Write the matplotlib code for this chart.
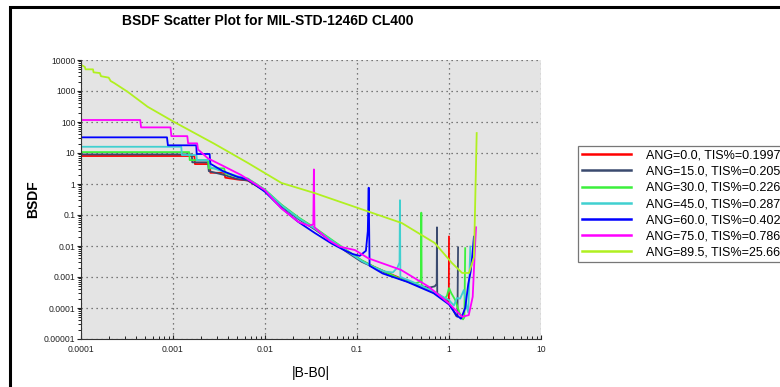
import matplotlib
matplotlib.use("Agg")
import matplotlib.pyplot as plt
from matplotlib.patches import Rectangle
from matplotlib.ticker import FixedLocator, FixedFormatter, LogLocator, NullFormatter

plt.rcParams['font.family'] = ['Liberation Sans', 'DejaVu Sans']

# ---- data (|B-B0|, BSDF) ----
ang0_x = [1e-4, 1.71e-3, 1.73e-3, 2.5e-3, 2.55e-3, 3.6e-3, 3.7e-3, 5e-3, 6.5e-3, 0.01, 0.015, 0.023,
          0.035, 0.053, 0.08, 0.112, 0.15, 0.2, 0.3, 0.45, 0.6, 0.8, 0.95, 0.995, 1.0]
ang0_y = [8.0, 8.0, 4.4, 4.4, 2.3, 2.3, 1.6, 1.4, 1.3, 0.6, 0.21, 0.08,
          0.036, 0.015, 6.5e-3, 3.4e-3, 2.2e-3, 1.5e-3, 9e-4, 5.5e-4, 3.8e-4, 2.4e-4, 1.9e-4, 1.6e-4, 0.02]

ang15_x = [1e-4, 1.6e-3, 1.62e-3, 2.4e-3, 2.45e-3, 3.5e-3, 5e-3, 6.5e-3, 0.01, 0.015, 0.023, 0.035,
           0.053, 0.08, 0.112, 0.15, 0.2, 0.3, 0.45, 0.6, 0.7, 0.735, 0.74, 0.745, 0.85, 1.0, 1.1,
           1.2, 1.235, 1.255]
ang15_y = [9.0, 9.0, 5.0, 5.0, 2.6, 2.0, 1.45, 1.3, 0.6, 0.2, 0.075, 0.034,
           0.014, 6e-3, 3.1e-3, 2.1e-3, 1.4e-3, 8.5e-4, 5.5e-4, 4.5e-4, 5e-4, 6e-4, 0.04, 3e-4, 2.2e-4,
           1.4e-4, 9e-5, 5.5e-5, 5.2e-5, 9e-3]

ang30_x = [1e-4, 1.5e-3, 1.52e-3, 2.4e-3, 2.45e-3, 3.6e-3, 3.7e-3, 5e-3, 6.5e-3, 0.01, 0.015, 0.023,
           0.035, 0.053, 0.08, 0.112, 0.15, 0.2, 0.3, 0.42, 0.48, 0.495, 0.5, 0.505, 0.6, 0.75, 0.88,
           0.95, 1.0, 1.06, 1.17, 1.3, 1.42, 1.47, 1.5]
ang30_y = [10.7, 10.7, 5.9, 5.9, 3.2, 3.2, 2.2, 1.7, 1.5, 0.66, 0.22, 0.085,
           0.038, 0.016, 6.8e-3, 3.5e-3, 2.2e-3, 1.5e-3, 8.5e-4, 6e-4, 7e-4, 9e-4, 0.119, 5e-4, 4e-4,
           2.7e-4, 1.8e-4, 2.5e-4, 4.4e-4, 3e-4, 1.8e-4, 7e-5, 4.3e-5, 5e-5, 8.5e-3]

ang45_x = [1e-4, 1.23e-3, 1.25e-3, 1.8e-3, 1.82e-3, 2.5e-3, 2.55e-3, 3.5e-3, 5e-3, 6.5e-3, 0.01,
           0.015, 0.023, 0.035, 0.053, 0.08, 0.112, 0.15, 0.2, 0.245, 0.275, 0.29, 0.293, 0.296, 0.4,
           0.6, 0.8, 1.0, 1.13, 1.22, 1.32, 1.45, 1.55, 1.62, 1.66, 1.705]
ang45_y = [15.9, 15.9, 8.6, 8.6, 5.9, 5.9, 3.5, 2.5, 1.8, 1.45, 0.64,
           0.21, 0.08, 0.036, 0.015, 6.5e-3, 3.3e-3, 2.1e-3, 1.5e-3, 1.4e-3, 2e-3, 3e-3, 0.3, 1e-3, 7e-4,
           4e-4, 2.6e-4, 1.8e-4, 1.2e-4, 2.1e-4, 2e-4, 3.8e-4, 1.2e-4, 7e-5, 8e-4, 9.6e-3]

ang60_x = [1e-4, 8.6e-4, 8.8e-4, 1.79e-3, 1.81e-3, 2.5e-3, 2.55e-3, 3.5e-3, 5e-3, 6.5e-3, 0.01, 0.015,
           0.023, 0.035, 0.053, 0.075, 0.09, 0.107, 0.125, 0.131, 0.134, 0.137, 0.19, 0.35, 0.68, 1.0,
           1.2, 1.35, 1.5, 1.62, 1.72, 1.78, 1.866]
ang60_y = [32, 32, 17.7, 17.7, 9.3, 9.3, 4.5, 2.6, 1.7, 1.4, 0.56, 0.17,
           0.06, 0.026, 0.012, 7e-3, 5.5e-3, 4.8e-3, 7e-3, 0.03, 0.76, 2.3e-3, 1.3e-3, 7e-4, 3e-4, 1.3e-4,
           6e-5, 4.5e-5, 1e-4, 6e-4, 1.5e-3, 4e-3, 0.02]

ang75_x = [1e-4, 4.4e-4, 4.5e-4, 9.4e-4, 9.6e-4, 1.43e-3, 1.46e-3, 1.83e-3, 1.87e-3, 2.4e-3, 3.35e-3,
           5.5e-3, 9.9e-3, 0.015, 0.023, 0.03, 0.0335, 0.034, 0.0345, 0.05, 0.065, 0.095, 0.133, 0.3,
           0.6, 1.0, 1.39, 1.64, 1.81, 1.91, 1.966]
ang75_y = [116, 116, 67, 67, 35, 35, 20.5, 20.5, 13, 6.7, 4.1,
           1.95, 0.64, 0.165, 0.06, 0.045, 0.05, 2.95, 0.04, 0.015, 9.5e-3, 7.4e-3, 4e-3, 1.7e-3,
           4.9e-4, 1.4e-4, 5.2e-5, 5.9e-5, 2.3e-4, 7.4e-3, 0.04]

ang895_x = [1e-4, 1.1e-4, 1.12e-4, 1.35e-4, 1.37e-4, 1.6e-4, 1.65e-4, 2.0e-4, 2.1e-4, 2.3e-4, 3.2e-4,
            5.3e-4, 1.03e-3, 2.8e-3, 6.5e-3, 0.0151, 0.0346, 0.053, 0.134, 0.307, 0.70, 1.08, 1.39,
            1.65, 1.87, 2.0]
ang895_y = [7000, 6000, 5000, 5000, 4000, 3800, 3000, 2700, 2100, 1800, 950,
            310, 100, 20, 4.8, 1.08, 0.51, 0.33, 0.128, 0.055, 0.0125, 2.8e-3, 1.35e-3,
            1.35e-3, 4.4e-3, 44]

labels = ["ANG=0.0, TIS%=0.1997", "ANG=15.0, TIS%=0.2054", "ANG=30.0, TIS%=0.226",
          "ANG=45.0, TIS%=0.287", "ANG=60.0, TIS%=0.4027", "ANG=75.0, TIS%=0.7863",
          "ANG=89.5, TIS%=25.66"]
colors = ['#ff0000', '#3a4a6e', '#3cf03c', '#40d0d0', '#0000ff', '#ff00ff', '#b0f020']

x_ticks = [1e-4, 1e-3, 1e-2, 1e-1, 1, 10]
x_tick_labels = ['0.0001', '0.001', '0.01', '0.1', '1', '10']
y_ticks = [1e-5, 1e-4, 1e-3, 1e-2, 1e-1, 1, 10, 100, 1000, 10000]
y_tick_labels = ['0.00001', '0.0001', '0.001', '0.01', '0.1', '1', '10', '100', '1000', '10000']

series = [(ang0_x, ang0_y), (ang15_x, ang15_y), (ang30_x, ang30_y), (ang45_x, ang45_y),
          (ang60_x, ang60_y), (ang75_x, ang75_y), (ang895_x, ang895_y)]

fig = plt.figure(figsize=(7.8, 3.87), dpi=100)
ax = fig.add_axes([81/780, 1 - 339/387, 460/780, 279/387])
ax.set_facecolor('#e4e4e4')

for (xs, ys), lab, col in zip(series, labels, colors):
    ax.plot(xs, ys, color=col, lw=1.3, label=lab)

ax.set_xscale('log')
ax.set_yscale('log')
ax.set_xlim(1e-4, 10)
ax.set_ylim(1e-5, 1e4)

ax.xaxis.set_major_locator(FixedLocator(x_ticks))
ax.xaxis.set_major_formatter(FixedFormatter(x_tick_labels))
ax.yaxis.set_major_locator(FixedLocator(y_ticks))
ax.yaxis.set_major_formatter(FixedFormatter(y_tick_labels))
ax.xaxis.set_minor_locator(LogLocator(base=10, subs=range(2, 10), numticks=20))
ax.yaxis.set_minor_locator(LogLocator(base=10, subs=range(2, 10), numticks=20))
ax.xaxis.set_minor_formatter(NullFormatter())
ax.yaxis.set_minor_formatter(NullFormatter())

ax.tick_params(axis='both', which='major', labelsize=6.2, colors='#222222', length=3, width=0.8)
ax.tick_params(axis='x', which='both', direction='in')
ax.tick_params(axis='y', which='both', direction='out')
ax.tick_params(axis='both', which='minor', length=2, width=0.6)
ax.tick_params(axis='x', pad=4)
ax.tick_params(axis='y', pad=1)

for s in ['top', 'right']:
    ax.spines[s].set_visible(False)
ax.spines['left'].set_color('#333333')
ax.spines['bottom'].set_color('#333333')

ax.grid(True, which='major', color='#555555', linestyle=(0, (1, 3)), linewidth=0.9)

ax.set_ylabel('BSDF', fontsize=10, fontweight='bold', labelpad=3)
ax.set_xlabel('|B-B0|', fontsize=10, labelpad=9)
fig.text(268/780, 1 - 21/387, 'BSDF Scatter Plot for MIL-STD-1246D CL400',
         ha='center', va='center', fontsize=10, fontweight='bold')

leg = fig.legend(loc='upper left', bbox_to_anchor=(578/780, 1 - 146/387),
                 fontsize=9, handlelength=3.9, handletextpad=1.2, labelspacing=0.33,
                 borderpad=0.3, borderaxespad=0, fancybox=False, frameon=True)
leg.get_frame().set_edgecolor('#555555')
leg.get_frame().set_linewidth(0.9)
for h in leg.get_lines():
    h.set_linewidth(1.8)

# outer panel frame
fig.add_artist(Rectangle((10/780, -0.2), 1.2, 1.2 - 7/387, transform=fig.transFigure,
                         fill=False, edgecolor='black', linewidth=2.2))

fig.savefig('out.png', dpi=100)
